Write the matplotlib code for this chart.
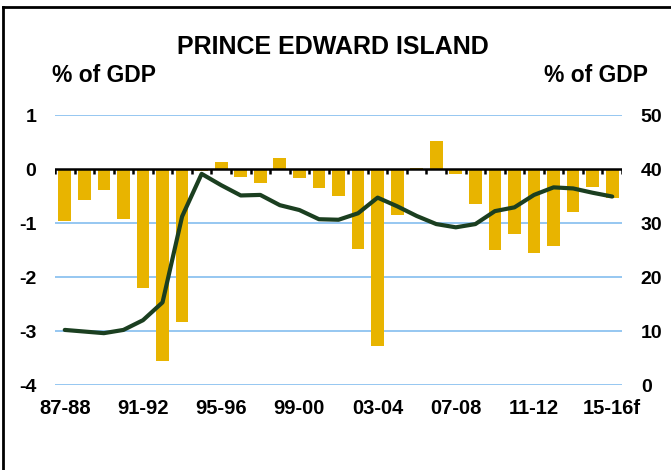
import numpy as np
import matplotlib
import matplotlib.pyplot as plt
from matplotlib.lines import Line2D

matplotlib.use("Agg")
plt.rcParams["font.family"] = ["Liberation Sans", "DejaVu Sans"]
plt.rcParams["font.weight"] = "bold"
plt.rcParams["axes.unicode_minus"] = False

# fiscal years 1987-88 .. 2015-16 (forecast)
years = [f"{y % 100:02d}-{(y + 1) % 100:02d}" for y in range(1987, 2016)]
tick_labels = ["87-88", "91-92", "95-96", "99-00", "03-04", "07-08", "11-12", "15-16f"]

# budget balance, % of GDP (left axis)
balance = [-0.96, -0.57, -0.39, -0.92, -2.21, -3.55, -2.84, -0.03, 0.13, -0.15,
           -0.26, 0.20, -0.17, -0.36, -0.50, -1.48, -3.28, -0.85, 0.01, 0.52,
           -0.09, -0.65, -1.50, -1.21, -1.55, -1.43, -0.80, -0.34, -0.53]

# net debt, % of GDP (right axis)
debt = [10.2, 9.9, 9.6, 10.2, 12.0, 15.3, 31.2, 39.1, 37.0, 35.1,
        35.2, 33.3, 32.4, 30.7, 30.6, 31.8, 34.7, 33.1, 31.3, 29.8,
        29.2, 29.8, 32.2, 32.9, 35.2, 36.6, 36.4, 35.6, 34.9]

x = np.arange(len(years))

fig = plt.figure(figsize=(6.71, 4.70), dpi=100)
ax = fig.add_axes([55 / 671, 1 - 385 / 470, 567 / 671, 270 / 470])
ax2 = ax.twinx()

ax.bar(x, balance, width=0.65, color="#E8B400", zorder=2)
ax2.plot(x, debt, color="#1B3F20", linewidth=3, solid_capstyle="round", zorder=3)

ax.set_xlim(-0.5, len(years) - 0.5)
ax.set_ylim(-4, 1)
ax2.set_ylim(0, 50)
ax.set_yticks(range(-4, 2))
ax2.set_yticks(range(0, 51, 10))

# light blue gridlines
for v in range(-4, 2):
    if v != 0:
        ax.axhline(v, color="#8EC3F0", linewidth=1.3, zorder=0)

# zero line with tick marks between the bars
ax.axhline(0, color="black", linewidth=1.8, zorder=4)
edges = np.arange(len(years) + 1) - 0.5
ax.vlines(edges, -0.1, 0, color="black", linewidth=1.8, zorder=4)

for a in (ax, ax2):
    for s in a.spines.values():
        s.set_visible(False)

ax.set_xticks([years.index(t.rstrip("f")) for t in tick_labels])
ax.set_xticklabels(tick_labels)
ax.tick_params(axis="x", length=0, pad=10, labelsize=14.5)
ax.tick_params(axis="y", length=0, pad=13.5, labelsize=14)
ax2.tick_params(axis="y", length=0, pad=13.5, labelsize=14)

fig.text(333 / 671, 1 - 47 / 470, "PRINCE EDWARD ISLAND", ha="center", va="center",
         fontsize=18, fontweight="bold")
fig.text(52 / 671, 1 - 75 / 470, "% of GDP", ha="left", va="center",
         fontsize=16.5, fontweight="bold")
fig.text(648 / 671, 1 - 75 / 470, "% of GDP", ha="right", va="center",
         fontsize=16.5, fontweight="bold")

# chart frame (top and left edges)
fig.add_artist(Line2D([3 / 671, 3 / 671], [0, 1 - 7 / 470], color="black", linewidth=2))
fig.add_artist(Line2D([3 / 671, 1], [1 - 7 / 470, 1 - 7 / 470], color="black", linewidth=2))

fig.savefig("out.png", dpi=100)
